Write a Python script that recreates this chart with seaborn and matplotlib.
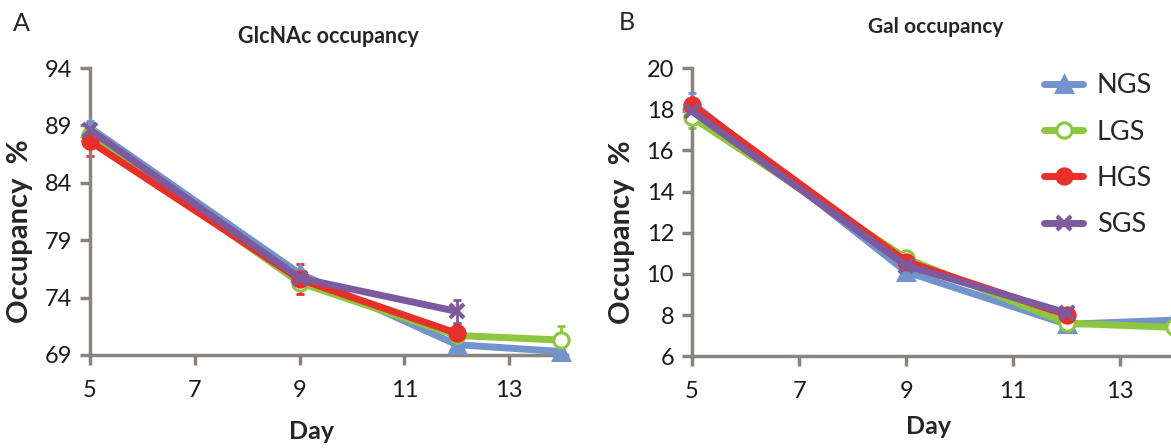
import matplotlib
matplotlib.use("Agg")
import matplotlib.pyplot as plt
import seaborn as sns
import pandas as pd

sns.set_theme(style="white")
plt.rcParams["font.family"] = ["Lato", "DejaVu Sans"]

groups = ["NGS", "LGS", "HGS", "SGS"]
colors = {"NGS": "#7393cc", "LGS": "#8dc63f", "HGS": "#e8302a", "SGS": "#7d5a9e"}
markers = {"NGS": "^", "LGS": "o", "HGS": "o", "SGS": "x"}

# GlcNAc occupancy (%) by day
glc_days = {"NGS": [5, 9, 12, 14], "LGS": [5, 9, 12, 14], "HGS": [5, 9, 12], "SGS": [5, 9, 12]}
glc_mean = {"NGS": [88.8, 76.1, 69.9, 69.3],
            "LGS": [88.2, 75.3, 70.7, 70.3],
            "HGS": [87.6, 75.6, 70.9],
            "SGS": [88.6, 75.7, 72.8]}
glc_err = {"NGS": [0.6, 0.4, 0.5, 0.2],
           "LGS": [0.5, 0.4, 0.6, 1.2],
           "HGS": [1.3, 1.3, 0.8],
           "SGS": [0.6, 0.4, 1.0]}

# Gal occupancy (%) by day
gal_days = {"NGS": [5, 9, 12, 14], "LGS": [5, 9, 12, 14], "HGS": [5, 9, 12], "SGS": [5, 9, 12]}
gal_mean = {"NGS": [18.3, 10.1, 7.55, 7.75],
            "LGS": [17.6, 10.75, 7.6, 7.4],
            "HGS": [18.2, 10.6, 8.0],
            "SGS": [17.9, 10.4, 8.1]}
gal_err = {"NGS": [0.5, 0.3, 0.3, 0.2],
           "LGS": [0.5, 0.3, 0.4, 0.3],
           "HGS": [0.3, 0.3, 0.2],
           "SGS": [0.3, 0.3, 0.2]}

x_ticks = [5, 7, 9, 11, 13]
glc_yticks = [69, 74, 79, 84, 89, 94]
gal_yticks = [6, 8, 10, 12, 14, 16, 18, 20]

axis_grey = "#8a837f"

fig = plt.figure(figsize=(11.71, 4.48), dpi=100)
axA = fig.add_axes([0.0769, 0.2076, 0.407, 0.6406])
axB = fig.add_axes([0.591, 0.205, 0.416, 0.643])


def draw(ax, days, mean, err, yticks, show_legend, day_xy, occ_xy):
    for g in groups:
        df = pd.DataFrame({"Day": days[g], "Occupancy": mean[g]})
        face = "white" if g == "LGS" else colors[g]
        ax.errorbar(df["Day"], df["Occupancy"], yerr=err[g], fmt="none",
                    ecolor=colors[g], elinewidth=2, capsize=3, capthick=2,
                    zorder=2, clip_on=False)
        sns.lineplot(data=df, x="Day", y="Occupancy", ax=ax, color=colors[g],
                     lw=5, marker=markers[g], markersize=11 if g != "SGS" else 10,
                     markerfacecolor=face, markeredgecolor=colors[g],
                     markeredgewidth=2.2 if g != "SGS" else 3, label=g,
                     zorder=3, clip_on=False, legend=show_legend)
    ax.set_xlim(5, 14.1)
    ax.set_ylim(yticks[0], yticks[-1])
    ax.set_xticks(x_ticks)
    ax.set_yticks(yticks)
    for s in ["top", "right"]:
        ax.spines[s].set_visible(False)
    for s in ["left", "bottom"]:
        ax.spines[s].set_color(axis_grey)
        ax.spines[s].set_linewidth(2.5)
    ax.tick_params(axis="both", which="major", direction="out", length=7,
                   width=2.5, color=axis_grey, labelsize=17, labelcolor="#1a1a1a",
                   bottom=True, left=True)
    ax.tick_params(axis="x", pad=11)
    ax.tick_params(axis="y", pad=6)
    ax.set_xlabel("Day", fontsize=18, fontweight="bold")
    ax.set_ylabel("Occupancy  %", fontsize=21, fontweight="bold")
    ax.xaxis.set_label_coords(*day_xy)
    ax.yaxis.set_label_coords(*occ_xy)


draw(axA, glc_days, glc_mean, glc_err, glc_yticks, False, (0.465, -0.228), (-0.12, 0.43))
draw(axB, gal_days, gal_mean, gal_err, gal_yticks, True, (0.485, -0.205), (-0.117, 0.43))

axA.set_title("GlcNAc occupancy", fontsize=15.5, fontweight="bold", pad=18)
axB.set_title("Gal occupancy", fontsize=15, fontweight="bold", pad=25)

fig.text(0.011, 0.947, "A", fontsize=18, va="center")
fig.text(0.528, 0.950, "B", fontsize=18, va="center")

leg = axB.legend(loc="upper left", bbox_to_anchor=(0.700, 1.02), frameon=False,
                 fontsize=19.5, handlelength=1.45, handletextpad=0.5,
                 labelspacing=0.79, borderaxespad=0)

fig.savefig("out.png", dpi=100)
